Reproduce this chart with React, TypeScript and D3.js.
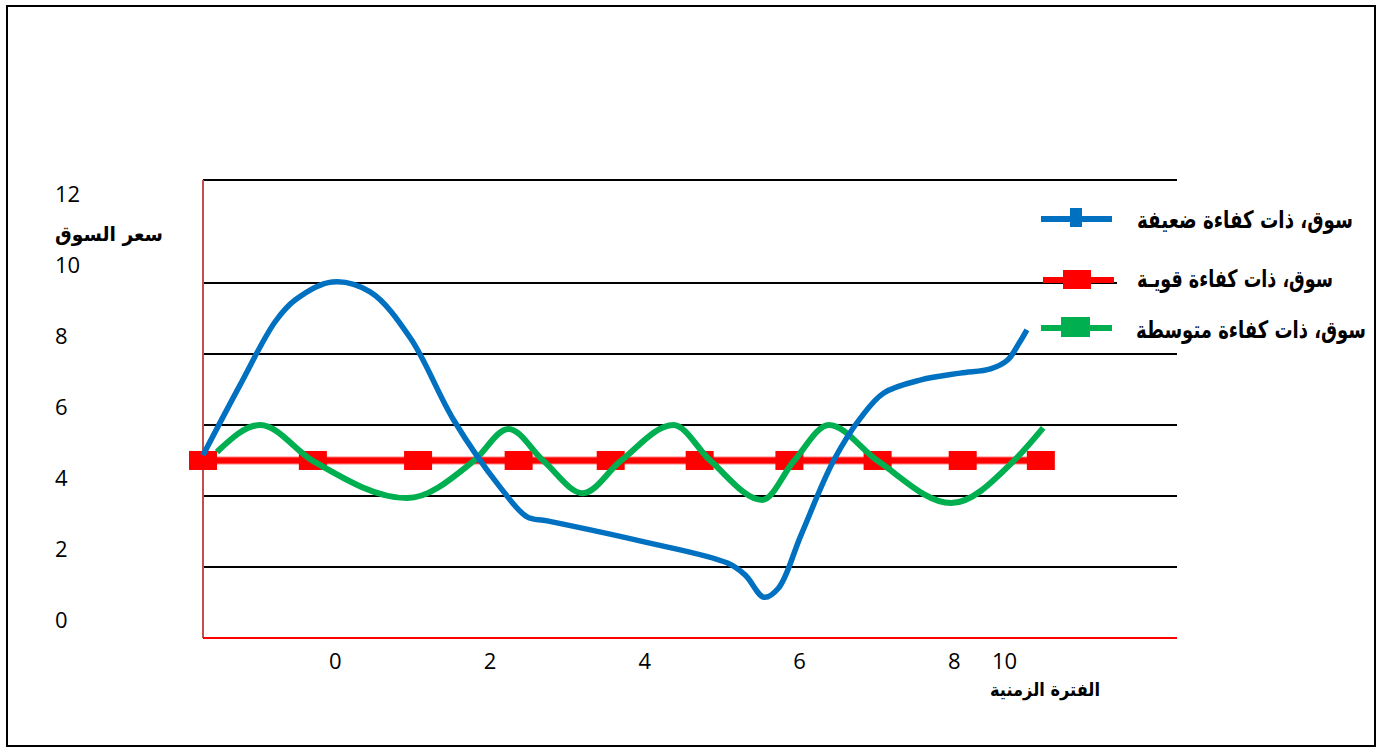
import React, { useLayoutEffect, useRef, useState } from "react";
import * as d3 from "d3";

// ---- data ----
const yTickValues = [0, 2, 4, 6, 8, 10, 12];
const gridValues = [2, 4, 6, 8, 10];
const xTickLabels = ["0", "2", "4", "6", "8", "10"];
const xTickPositions = [0, 2, 4, 6, 8, 8.65];

const blueX = [-1.71, -1.23, -0.78, -0.52, -0.04, 0.45, 0.97, 1.53, 2.13, 2.48, 2.74, 3.95, 5.07, 5.3, 5.54, 5.73, 6.02, 6.44, 6.79, 7.09, 7.57, 8.08, 8.47, 8.69, 8.84, 8.94];
const blueY = [5.15, 7.13, 8.9, 9.52, 10.03, 9.75, 8.45, 6.14, 4.25, 3.41, 3.3, 2.73, 2.11, 1.77, 1.15, 1.41, 2.9, 4.99, 6.2, 6.9, 7.27, 7.46, 7.58, 7.83, 8.31, 8.68];

const greenX = [-1.53, -0.97, -0.29, 0.93, 1.79, 2.24, 2.69, 3.2, 3.69, 4.37, 4.85, 5.52, 5.93, 6.38, 7.01, 7.96, 8.77, 9.15];
const greenY = [5.24, 6.0, 4.99, 3.94, 4.99, 5.89, 4.99, 4.08, 4.99, 6.0, 4.99, 3.89, 4.99, 6.0, 4.99, 3.8, 4.99, 5.92];

const redValue = 5;
const redLineStart = -1.84;
const redLineEnd = 9.29;
const redMarkersX = [-1.71, -0.29, 1.07, 2.37, 3.56, 4.71, 5.87, 7.01, 8.11, 9.12];

const legendLabels = ["سوق، ذات كفاءة ضعيفة", "سوق، ذات كفاءة قويـة", "سوق، ذات كفاءة متوسطة"];
const yTitle = "سعر السوق";
const xTitle = "الفترة الزمنية";

const BLUE = "#0070c0";
const RED = "#ff0000";
const GREEN = "#00b050";

export default function App() {
  const W = 1377, H = 747;
  const x = d3.scaleLinear().domain([-1.71, 10.88]).range([203, 1177]);
  const y = d3.scaleLinear().domain([0, 12.9]).range([638, 180]);
  const [x0, x1] = x.range();
  const [yb, yt] = y.range();

  const blueLine = d3
    .line<[number, number]>()
    .x((d) => x(d[0]))
    .y((d) => y(d[1]))
    .curve(d3.curveCatmullRom.alpha(0.5));
  const greenLine = d3
    .line<[number, number]>()
    .x((d) => x(d[0]))
    .y((d) => y(d[1]))
    .curve(d3.curveMonotoneX);

  const bluePts = blueX.map((v, i) => [v, blueY[i]] as [number, number]);
  const greenPts = greenX.map((v, i) => [v, greenY[i]] as [number, number]);

  const arabic = "'DejaVu Sans', 'Noto Sans', sans-serif";
  const num = "'Open Sans', 'Liberation Sans', sans-serif";

  const mW = 28, mH = 19;

  // legend text: centre, baseline, target width
  const legendText = [
    { cx: 1245, by: 228, w: 216 },
    { cx: 1235, by: 287, w: 196 },
    { cx: 1251, by: 338, w: 230 },
  ];
  const refs = useRef<(SVGTextElement | null)[]>([]);
  const [scales, setScales] = useState<number[]>([0.77, 0.74, 0.76]);
  useLayoutEffect(() => {
    const s = legendText.map((t, i) => {
      const el = refs.current[i];
      if (!el) return 0.76;
      const len = el.getComputedTextLength();
      return len > 0 ? t.w / len : 0.76;
    });
    setScales(s);
  }, []);

  return (
    <svg width={W} height={H} style={{ position: "absolute", left: 0, top: 0, background: "#fff" }}>
      <rect x={0} y={0} width={W} height={H} fill="#fff" />
      {/* outer frame */}
      <rect x={7} y={6} width={1368} height={740} fill="none" stroke="#000" strokeWidth={2} />

      {/* gridlines */}
      {gridValues.map((g) => (
        <line key={g} x1={x0} x2={x1} y1={y(g)} y2={y(g)} stroke="#000" strokeWidth={2} />
      ))}
      <line x1={x0} x2={x1} y1={yt} y2={yt} stroke="#000" strokeWidth={2} />

      {/* axes */}
      <line x1={x0} x2={x0} y1={yt} y2={yb} stroke="#c0504d" strokeWidth={2} />
      <line x1={x0} x2={x1} y1={yb} y2={yb} stroke={RED} strokeWidth={2} />

      {/* legend background */}
      <rect x={1117} y={200} width={250} height={145} fill="#fff" />

      {/* y tick labels */}
      {yTickValues.map((v) => (
        <text key={v} x={55} y={y(v) - 18 + 8} fontFamily={num} fontSize={22} fill="#000">
          {v}
        </text>
      ))}
      <text x={109} y={241} textAnchor="middle" fontFamily={arabic} fontSize={20} fontWeight="bold" fill="#000" textLength={108} lengthAdjust="spacingAndGlyphs">
        {yTitle}
      </text>

      {/* x tick labels */}
      {xTickLabels.map((t, i) => (
        <text key={t} x={x(xTickPositions[i])} y={669} textAnchor="middle" fontFamily={num} fontSize={22} fill="#000">
          {t}
        </text>
      ))}
      <text x={1045} y={696} textAnchor="middle" fontFamily={arabic} fontSize={18} fontWeight="bold" fill="#000" textLength={110} lengthAdjust="spacingAndGlyphs">
        {xTitle}
      </text>

      {/* red series */}
      <line x1={x(redLineStart)} x2={x(redLineEnd)} y1={y(redValue)} y2={y(redValue)} stroke="#ff8080" strokeWidth={8} />
      <line x1={x(redLineStart)} x2={x(redLineEnd)} y1={y(redValue)} y2={y(redValue)} stroke={RED} strokeWidth={6} />
      {redMarkersX.map((m, i) => (
        <rect key={i} x={x(m) - mW / 2} y={y(redValue) - mH / 2} width={mW} height={mH} fill={RED} />
      ))}

      {/* green series */}
      <path d={greenLine(greenPts) || ""} fill="none" stroke={GREEN} strokeWidth={6} strokeLinecap="butt" />

      {/* blue series */}
      <path d={blueLine(bluePts) || ""} fill="none" stroke={BLUE} strokeWidth={5.5} strokeLinecap="butt" />

      {/* legend */}
      <line x1={1041} x2={1112} y1={219} y2={219} stroke={BLUE} strokeWidth={6} />
      <rect x={1070} y={208} width={12} height={19} fill={BLUE} />
      <line x1={1043} x2={1114} y1={280} y2={280} stroke={RED} strokeWidth={6} />
      <rect x={1063} y={270} width={28} height={19} fill={RED} />
      <line x1={1041} x2={1112} y1={328} y2={328} stroke={GREEN} strokeWidth={6} />
      <rect x={1061} y={317} width={29} height={20} fill={GREEN} />

      {legendLabels.map((lab, i) => (
        <g key={lab} transform={`translate(${legendText[i].cx},${legendText[i].by}) scale(${scales[i]},1)`}>
          <text
            ref={(el) => {
              refs.current[i] = el;
            }}
            x={0}
            y={0}
            textAnchor="middle"
            fontFamily={arabic}
            fontSize={24}
            fontWeight="bold"
            fill="#000"
          >
            {lab}
          </text>
        </g>
      ))}
    </svg>
  );
}
